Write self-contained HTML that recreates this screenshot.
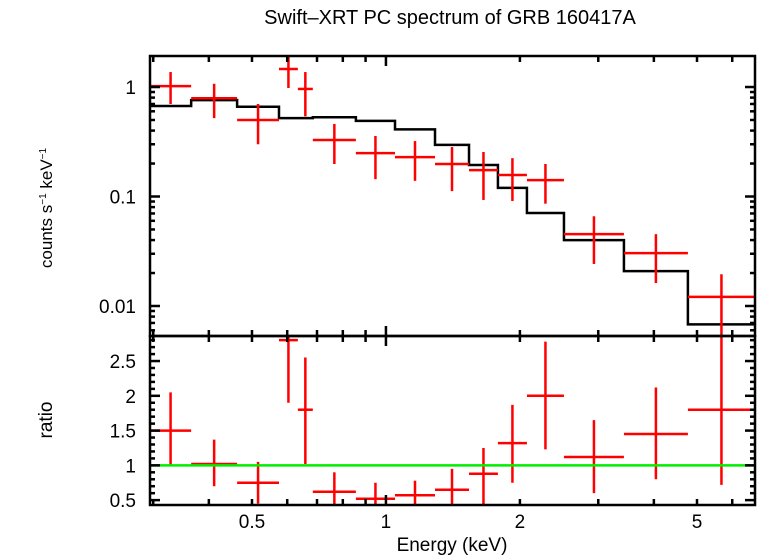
<!DOCTYPE html>
<html><head><meta charset="utf-8"><style>
body{margin:0;background:#fff}
svg{display:block;font-family:"Liberation Sans",sans-serif}
</style></head><body>
<svg id="chart" width="758" height="556"></svg>
<script>
const binLo=[0.295,0.365,0.463,0.575,0.634,0.685,0.856,1.048,1.289,1.537,1.785,2.074,2.512,3.426,4.77];
const binHi=[0.365,0.463,0.575,0.634,0.685,0.856,1.048,1.289,1.537,1.785,2.074,2.512,3.426,4.77,6.75];
const rateVal=[1.02,0.79,0.50,1.46,0.96,0.328,0.249,0.229,0.198,0.174,0.157,0.141,0.0453,0.0304,0.0121];
const rateErrHi=[1.37,1.07,0.70,1.88,1.37,0.46,0.357,0.321,0.283,0.255,0.224,0.198,0.066,0.0453,0.0195];
const rateErrLo=[0.70,0.52,0.30,0.98,0.54,0.198,0.144,0.139,0.112,0.093,0.091,0.086,0.0242,0.0162,0.004];
const modelVal=[0.67,0.76,0.66,0.52,0.52,0.53,0.49,0.41,0.296,0.194,0.12,0.0706,0.040,0.0208,0.0068];
const ratioVal=[1.5,1.02,0.75,2.8,1.8,0.62,0.52,0.57,0.65,0.88,1.32,2.0,1.12,1.45,1.8];
const ratioErrHi=[2.05,1.37,1.05,2.95,2.55,0.9,0.75,0.78,0.95,1.25,1.87,2.78,1.65,2.12,2.95];
const ratioErrLo=[1.0,0.7,0.45,1.9,1.02,0.4,0.4,0.4,0.4,0.4,0.75,1.23,0.6,0.8,0.72];
const xTickLabels=[0.5,1,2,5];
const yTickLabels=["1","0.1","0.01"];
const yTickVals=[1,0.1,0.01];
const rTickLabels=["0.5","1","1.5","2","2.5"];
const rTickVals=[0.5,1,1.5,2,2.5];

const L=150,R=755,T1=56,B1=336,T2=336,B2=505;
const xMin=0.295,xMax=6.75,yMin=0.00532,yMax=1.92,rMin=0.43,rMax=2.86;
const X=e=>L+(Math.log10(e)-Math.log10(xMin))/(Math.log10(xMax)-Math.log10(xMin))*(R-L);
const Y=v=>B1-(Math.log10(v)-Math.log10(yMin))/(Math.log10(yMax)-Math.log10(yMin))*(B1-T1);
const YR=v=>B2-(v-rMin)/(rMax-rMin)*(B2-T2);
const svg=document.getElementById('chart');
const NS='http://www.w3.org/2000/svg';
function mk(tag,a,parent){const e=document.createElementNS(NS,tag);for(const k in a)e.setAttribute(k,a[k]);(parent||svg).appendChild(e);return e;}

const defs=mk('defs',{});
const c1=mk('clipPath',{id:'c1'},defs);mk('rect',{x:L,y:T1,width:R-L,height:B1-T1},c1);
const c2=mk('clipPath',{id:'c2'},defs);mk('rect',{x:L,y:T2,width:R-L,height:B2-T2},c2);

let t=mk('text',{x:450,y:24,'font-size':20,'text-anchor':'middle'});t.textContent='Swift–XRT PC spectrum of GRB 160417A';


const gm=mk('g',{'clip-path':'url(#c1)'});

let d='';
for(let i=0;i<binLo.length;i++){d+=(i?'L':'M')+X(binLo[i])+' '+Y(modelVal[i])+' L'+X(binHi[i])+' '+Y(modelVal[i]);}
mk('path',{d:d,fill:'none',stroke:'#000','stroke-width':2.5},gm);

const gd=mk('g',{'clip-path':'url(#c1)',stroke:'#f00','stroke-width':2.5});

const gr=mk('g',{'clip-path':'url(#c2)',stroke:'#f00','stroke-width':2.5});

for(let i=0;i<binLo.length;i++){
  const xc=X(Math.sqrt(binLo[i]*binHi[i]));
  mk('line',{x1:X(binLo[i]),x2:X(binHi[i]),y1:Y(rateVal[i]),y2:Y(rateVal[i])},gd);
  mk('line',{x1:xc,x2:xc,y1:Y(rateErrHi[i]),y2:Y(rateErrLo[i])},gd);
  mk('line',{x1:X(binLo[i]),x2:X(binHi[i]),y1:YR(ratioVal[i]),y2:YR(ratioVal[i])},gr);
  mk('line',{x1:xc,x2:xc,y1:YR(ratioErrHi[i]),y2:YR(ratioErrLo[i])},gr);
}
const ul=mk('line',{x1:L,x2:R,y1:YR(1),y2:YR(1),stroke:'#0e0','stroke-width':2.5});


const ga=mk('g',{stroke:'#000','stroke-width':2.5,fill:'none'});

mk('rect',{x:L,y:T1,width:R-L,height:B1-T1},ga);
mk('rect',{x:L,y:T2,width:R-L,height:B2-T2},ga);
const xt=[];for(let dec of [0.1,1]){for(let m=1;m<10;m++){const v=m*dec;if(v>=xMin&&v<=xMax)xt.push(v);}}
for(const v of xt){const x=X(v);const len=(v===1)?10:6;
  for(const [top,bot] of [[T1,B1],[T2,B2]]){mk('line',{x1:x,x2:x,y1:top,y2:top+len},ga);mk('line',{x1:x,x2:x,y1:bot,y2:bot-len},ga);}}
for(let dec of [0.001,0.01,0.1,1]){for(let m=1;m<10;m++){const v=m*dec;if(v<yMin||v>yMax)continue;const y=Y(v);const len=m===1?10:5;
  mk('line',{x1:L,x2:L+len,y1:y,y2:y},ga);mk('line',{x1:R,x2:R-len,y1:y,y2:y},ga);}}
for(let k=5;k<=28;k++){const v=k/10;if(v<rMin||v>rMax)continue;const y=YR(v);const len=(k%5===0)?10:5;
  mk('line',{x1:L,x2:L+len,y1:y,y2:y},ga);mk('line',{x1:R,x2:R-len,y1:y,y2:y},ga);}

const gl=mk('g',{'font-size':19,fill:'#000'});

xTickLabels.forEach(v=>{const e=mk('text',{x:X(v),y:528,'text-anchor':'middle'},gl);e.textContent=String(v);});
yTickLabels.forEach((s,i)=>{const e=mk('text',{x:136,y:Y(yTickVals[i])+7,'text-anchor':'end'},gl);e.textContent=s;});
rTickLabels.forEach((s,i)=>{const e=mk('text',{x:136,y:YR(rTickVals[i])+7,'text-anchor':'end'},gl);e.textContent=s;});

t=mk('text',{x:452,y:551,'font-size':19,'text-anchor':'middle'});t.textContent='Energy (keV)';

t=mk('text',{x:0,y:0,'font-size':17,'text-anchor':'middle',transform:'translate(52,208) rotate(-90)'});
t.innerHTML='counts s<tspan font-size="10" dy="-6">−1</tspan><tspan dy="6"> keV</tspan><tspan font-size="10" dy="-6">−1</tspan>';

t=mk('text',{x:0,y:0,'font-size':19,'text-anchor':'middle',transform:'translate(52,420) rotate(-90)'});t.textContent='ratio';

</script>
</body></html>
